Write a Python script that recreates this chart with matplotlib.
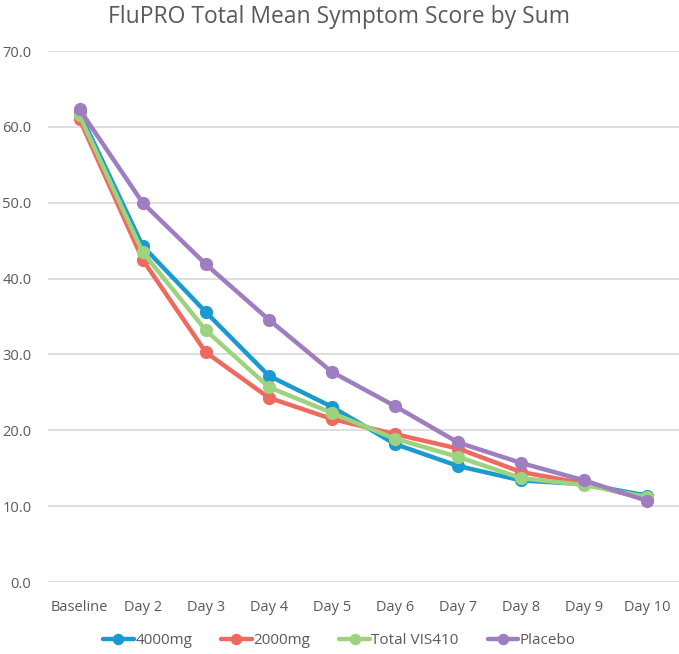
import matplotlib
matplotlib.use("Agg")
import matplotlib.pyplot as plt
from matplotlib.ticker import FormatStrFormatter

days = ["Baseline", "Day 2", "Day 3", "Day 4", "Day 5", "Day 6", "Day 7", "Day 8", "Day 9", "Day 10"]
mg4000 = [61.9, 44.3, 35.6, 27.2, 23.1, 18.2, 15.3, 13.4, 12.9, 11.4]
mg2000 = [61.0, 42.5, 30.3, 24.3, 21.5, 19.5, 17.6, 14.5, 13.0, 10.9]
total_vis410 = [61.5, 43.5, 33.2, 25.7, 22.3, 18.9, 16.5, 13.7, 12.8, 11.2]
placebo = [62.3, 50.0, 41.9, 34.6, 27.7, 23.2, 18.4, 15.7, 13.4, 10.7]

series = [
    ("4000mg", mg4000, "#1b9ad0"),
    ("2000mg", mg2000, "#ee6a5e"),
    ("Total VIS410", total_vis410, "#9dd27e"),
    ("Placebo", placebo, "#9e7dc1"),
]

plt.rcParams["font.family"] = ["Open Sans", "DejaVu Sans"]
text_col = "#595959"

fig = plt.figure(figsize=(6.79, 6.54), dpi=100)
ax = fig.add_axes([0.0707, 0.110, 0.929, 0.812])

x = list(range(len(days)))
for name, vals, col in series:
    ax.plot(x, vals, color=col, linewidth=3.2, marker="o", markersize=8.5,
            solid_capstyle="round", label=name)

ax.set_xlim(-0.5, len(days) - 0.5)
ax.set_ylim(0, 70)
ax.set_yticks(range(0, 71, 10))
ax.yaxis.set_major_formatter(FormatStrFormatter("%.1f"))
ax.set_xticks(x)
ax.set_xticklabels(days)
ax.grid(axis="y", color="#d9d9d9", linewidth=1.2)
ax.set_axisbelow(True)
for s in ax.spines.values():
    s.set_visible(False)
ax.tick_params(length=0, labelsize=10.5, colors=text_col, pad=13)
ax.tick_params(axis="y", pad=12)

fig.suptitle("FluPRO Total Mean Symptom Score by Sum", fontsize=16.5, color=text_col, y=0.993)

fig.legend(loc="lower center", ncol=4, frameon=False, fontsize=11, labelcolor=text_col,
           bbox_to_anchor=(0.5, -0.012), handlelength=2.0, columnspacing=1.9, handletextpad=0.1,
           markerscale=0.85)

fig.savefig("out.png", dpi=100)
